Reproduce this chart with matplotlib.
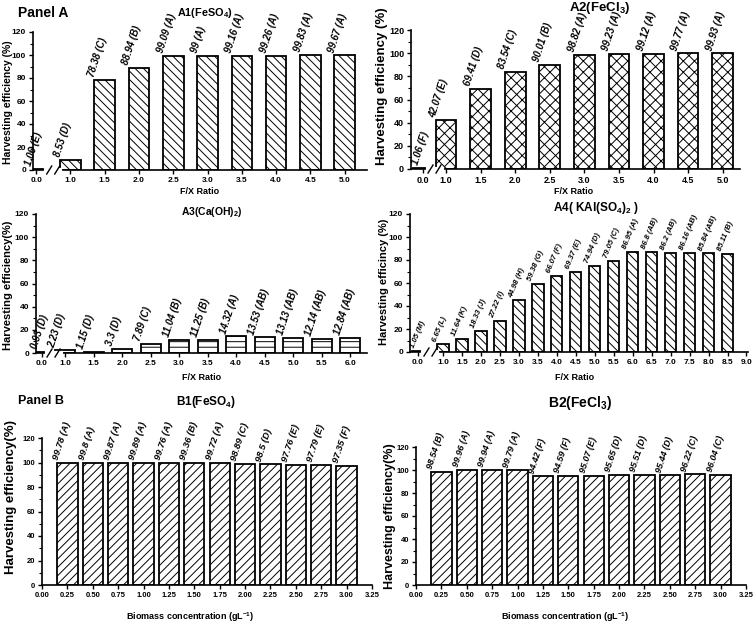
import matplotlib
matplotlib.use('Agg')
import matplotlib.pyplot as plt
import matplotlib.transforms as mtransforms

plt.rcParams['font.family'] = ['Liberation Sans', 'DejaVu Sans']
plt.rcParams['mathtext.fontset'] = 'custom'
plt.rcParams['mathtext.rm'] = 'Liberation Sans:bold'
plt.rcParams['mathtext.bf'] = 'Liberation Sans:bold'
plt.rcParams['mathtext.it'] = 'Liberation Sans:bold:italic'
plt.rcParams['hatch.linewidth'] = 0.7

# ---------------- data ----------------
a1_ratio = ['0.0', '1.0', '1.5', '2.0', '2.5', '3.0', '3.5', '4.0', '4.5', '5.0']
a1_eff = [1.06, 8.53, 78.38, 88.94, 99.09, 99, 99.16, 99.26, 99.83, 99.67]
a1_grp = ['E', 'D', 'C', 'B', 'A', 'A', 'A', 'A', 'A', 'A']

a2_ratio = ['0.0', '1.0', '1.5', '2.0', '2.5', '3.0', '3.5', '4.0', '4.5', '5.0']
a2_eff = [1.06, 42.07, 69.41, 83.54, 90.01, 98.82, 99.23, 99.12, 99.77, 99.93]
a2_grp = ['F', 'E', 'D', 'C', 'B', 'A', 'A', 'A', 'A', 'A']

a3_ratio = ['0.0', '1.0', '1.5', '2.0', '2.5', '3.0', '3.5', '4.0', '4.5', '5.0', '5.5', '6.0']
a3_eff = [0.93, 2.23, 1.15, 3.3, 7.89, 11.04, 11.25, 14.32, 13.53, 13.13, 12.14, 12.84]
a3_grp = ['D', 'D', 'D', 'D', 'C', 'B', 'B', 'A', 'AB', 'AB', 'AB', 'AB']

a4_ratio = ['0.0', '1.0', '1.5', '2.0', '2.5', '3.0', '3.5', '4.0', '4.5', '5.0',
            '5.5', '6.0', '6.5', '7.0', '7.5', '8.0', '8.5', '9.0']
a4_eff = [1.05, 6.65, 11.64, 18.33, 27.22, 44.98, 59.38, 66.07, 69.37, 74.94,
          79.05, 86.95, 86.8, 86.2, 86.16, 85.84, 85.11]
a4_grp = ['M', 'L', 'K', 'J', 'I', 'H', 'G', 'F', 'E', 'D', 'C', 'A', 'AB', 'AB',
          'AB', 'AB', 'B']

b_conc = [0.25, 0.50, 0.75, 1.00, 1.25, 1.50, 1.75, 2.00, 2.25, 2.50, 2.75, 3.00]
b1_eff = [99.78, 99.8, 99.87, 99.89, 99.76, 99.36, 99.72, 98.89, 98.5, 97.76, 97.79, 97.35]
b1_grp = ['A', 'A', 'A', 'A', 'A', 'B', 'A', 'C', 'D', 'E', 'E', 'F']
b2_eff = [98.54, 99.96, 99.94, 99.79, 94.42, 94.59, 95.07, 95.65, 95.51, 95.44, 96.22, 96.04]
b2_grp = ['B', 'A', 'A', 'A', 'F', 'F', 'E', 'D', 'D', 'D', 'C', 'C']

b_xticks = [0.00, 0.25, 0.50, 0.75, 1.00, 1.25, 1.50, 1.75, 2.00, 2.25, 2.50,
            2.75, 3.00, 3.25]
y_ticks = [0, 20, 40, 60, 80, 100, 120]

# ---------------- figure ----------------
W, H = 756, 625
fig = plt.figure(figsize=(W / 100, H / 100), dpi=100)


def axes_px(l, r, t, b):
    return fig.add_axes([l / W, 1 - b / H, (r - l) / W, (b - t) / H])


def ftext(x, y, s, **kw):
    return fig.text(x / W, 1 - y / H, s, **kw)


def style_axes(ax, tick_fs):
    for sp in ['top', 'right']:
        ax.spines[sp].set_visible(False)
    for sp in ['left', 'bottom']:
        ax.spines[sp].set_linewidth(1.2)
    ax.set_ylim(0, 120)
    ax.set_yticks(y_ticks)
    ax.set_yticks(range(10, 120, 20), minor=True)
    ax.tick_params(axis='both', which='major', direction='out', length=3,
                   width=1, labelsize=tick_fs, pad=2)
    ax.tick_params(axis='y', which='minor', direction='out', length=2, width=0.8)
    for lab in ax.get_xticklabels() + ax.get_yticklabels():
        lab.set_fontweight('bold')


def panel_a(rect, ratios, effs, grps, gap, xlim, hatch, width, tick_fs,
            val_fs, rot):
    ax = axes_px(*rect)
    pos = [0.0] + [gap + i for i in range(len(ratios) - 1)]
    n = len(effs)
    ax.bar(pos[:n], effs, width=width, color='white', edgecolor='black',
           hatch=hatch, linewidth=1.3, zorder=2)
    ax.set_xlim(*xlim)
    ax.set_xticks(pos)
    ax.set_xticklabels(ratios)
    style_axes(ax, tick_fs)
    for i, (p, v, g) in enumerate(zip(pos, effs, grps)):
        x0 = p - 0.1 if i == 0 else p - width / 2 + 0.05
        ax.text(x0, v + 1.5, f"{v:g} ({g})", rotation=rot,
                rotation_mode='anchor', ha='left', va='bottom',
                fontsize=val_fs, fontstyle='italic', fontweight='bold')
    # axis break marks
    l, r, t, b = rect
    dx_per_px = (xlim[1] - xlim[0]) / (r - l)
    dy_per_px = 1.0 / (b - t)
    xb = gap / 2
    trans = mtransforms.blended_transform_factory(ax.transData, ax.transAxes)
    ax.plot([xb - 7 * dx_per_px, xb + 7 * dx_per_px], [0, 0], color='white',
            lw=3, transform=trans, clip_on=False, zorder=5)
    for off in (-4, 4):
        ax.plot([xb + (off - 2.5) * dx_per_px, xb + (off + 2.5) * dx_per_px],
                [-4 * dy_per_px, 4 * dy_per_px], color='black', lw=1,
                transform=trans, clip_on=False, zorder=6)
    return ax


def panel_b(rect, effs, grps, tick_fs, val_fs, rot):
    ax = axes_px(*rect)
    ax.bar(b_conc, effs, width=0.2, color='white', edgecolor='black',
           hatch='////', linewidth=1.3, zorder=2)
    ax.set_xlim(0, 3.25)
    ax.set_xticks(b_xticks)
    ax.set_xticklabels([f"{t:.2f}" for t in b_xticks])
    style_axes(ax, tick_fs)
    for p, v, g in zip(b_conc, effs, grps):
        ax.text(p - 0.07, v + 1.5, f"{v:g} ({g})", rotation=rot,
                rotation_mode='anchor', ha='left', va='bottom',
                fontsize=val_fs, fontstyle='italic', fontweight='bold')
    return ax


# Panel A
panel_a((33, 367, 32, 170), a1_ratio, a1_eff, a1_grp, 1.0, (-0.09, 9.65),
        '\\\\\\\\', 0.6, 6, 7, 72)
panel_a((411, 740, 30, 169), a2_ratio, a2_eff, a2_grp, 0.66, (-0.35, 9.16),
        'xxx', 0.6, 6.5, 7, 72)
panel_a((36, 367, 214, 353), a3_ratio, a3_eff, a3_grp, 0.81, (-0.21, 11.4),
        '---', 0.7, 6, 7, 72)
panel_a((410, 748, 214, 352), a4_ratio, a4_eff, a4_grp, 1.32, (-0.42, 17.4),
        '\\\\\\\\', 0.6, 6, 5.5, 68)

# Panel B
panel_b((42, 372, 438, 585), b1_eff, b1_grp, 5.5, 6.8, 72)
panel_b((416, 746, 447, 585), b2_eff, b2_grp, 5.5, 6.5, 72)

# Titles
ftext(18, 13, 'Panel A', fontsize=10, fontweight='bold', va='center')
ftext(18, 401, 'Panel B', fontsize=9, fontweight='bold', va='center')
ftext(205, 13, r'A1(FeSO$_\mathbf{4}$)', fontsize=7.8, fontweight='bold',
      ha='center', va='center')
ftext(600, 8, r'A2(FeCl$_\mathbf{3}$)', fontsize=9.5, fontweight='bold',
      ha='center', va='center')
ftext(212, 212, r'A3(Ca(OH)$_\mathbf{2}$)', fontsize=7.5, fontweight='bold',
      ha='center', va='center')
ftext(596, 208, r'A4( KAl(SO$_\mathbf{4}$)$_\mathbf{2}$ )', fontsize=8.5,
      fontweight='bold', ha='center', va='center')
ftext(206, 402, r'B1(FeSO$_\mathbf{4}$)', fontsize=8.5, fontweight='bold',
      ha='center', va='center')
ftext(580, 403, r'B2(FeCl$_\mathbf{3}$)', fontsize=10, fontweight='bold',
      ha='center', va='center')

# Y labels
ylab_kw = dict(rotation=90, fontweight='bold', ha='center', va='center')
ftext(8, 102, 'Harvesting efficiency (%)', fontsize=7.5, **ylab_kw)
ftext(382, 86, 'Harvesting efficiency (%)', fontsize=9.5, **ylab_kw)
ftext(8, 285, 'Harvesting efficiency(%)', fontsize=8, **ylab_kw)
ftext(384, 282, 'Harvesting efficincy (%)', fontsize=8, **ylab_kw)
ftext(11, 497, 'Harvesting efficiency(%)', fontsize=9.5, **ylab_kw)
ftext(390, 516, 'Harvesting efficiency(%)', fontsize=9, **ylab_kw)

# X labels
xlab_kw = dict(fontweight='bold', ha='center', va='center', fontsize=6.5)
ftext(200, 191, 'F/X Ratio', **xlab_kw)
ftext(574, 192, 'F/X Ratio', **xlab_kw)
ftext(202, 378, 'F/X Ratio', **xlab_kw)
ftext(575, 378, 'F/X Ratio', **xlab_kw)
ftext(190, 617, r'Biomass concentration (gL$^\mathbf{-1}$)', **xlab_kw)
ftext(565, 617, r'Biomass concentration (gL$^\mathbf{-1}$)', **xlab_kw)

fig.savefig('out.png', dpi=100)
